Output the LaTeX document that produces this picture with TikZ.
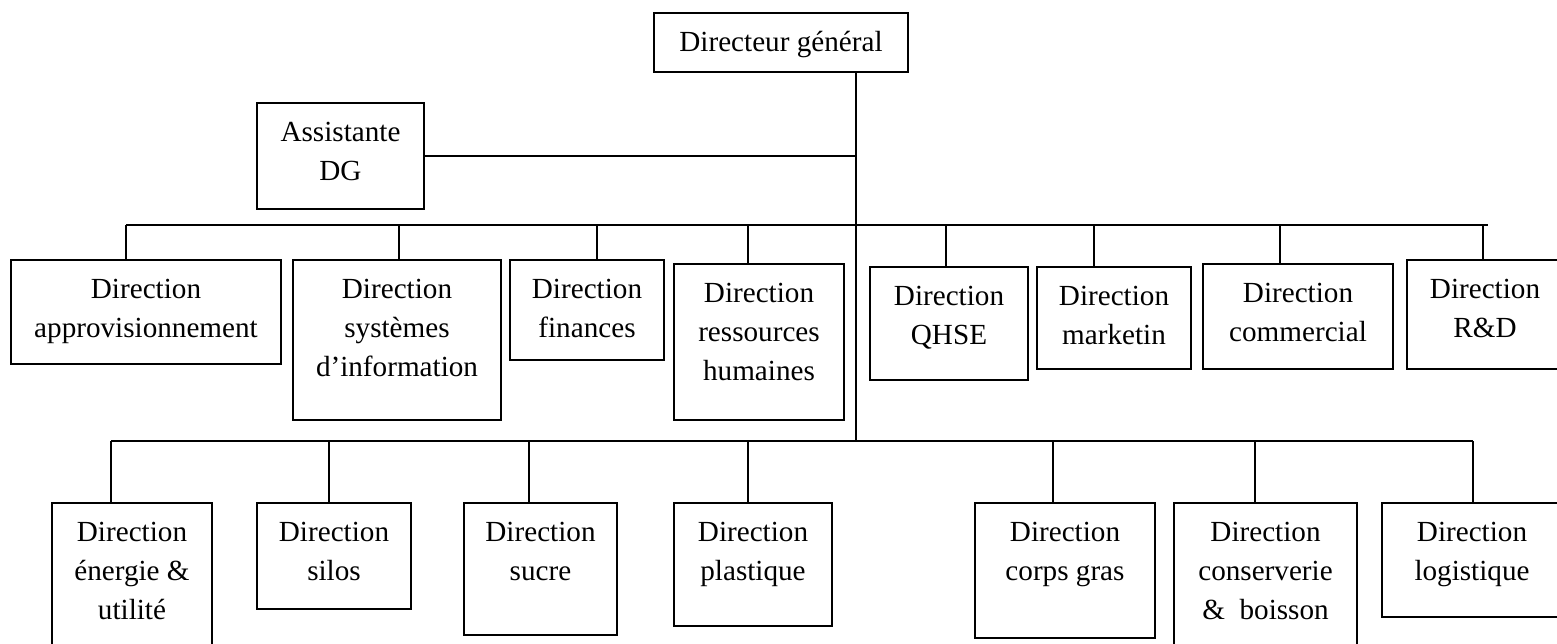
\documentclass[tikz,border=0pt]{standalone}
\usepackage{fontspec}
\setmainfont{Liberation Serif}
\newcommand{\cell}[3]{\parbox[c][#2][t]{#1}{\centering\vspace{0.22cm}\strut #3}}

\begin{document}
\begin{tikzpicture}[x=0.02cm, y=-0.02cm, line width=1.15pt, unit/.style={draw, inner sep=0pt, font=\fontsize{16.6}{22.2}\selectfont}]
\clip (0,0) rectangle (1557,644);

\node [unit](dg) at (781,42.5) {\cell{5.08cm}{1.18cm}{Directeur général}};
\node [unit](asst) at (340.5,156) {\cell{3.34cm}{2.12cm}{Assistante\\DG}};

% directions fonctionnelles
\node [unit](appro) at (146,312) {\cell{5.4cm}{2.08cm}{Direction\\approvisionnement}};
\node [unit](sysinfo) at (397,340) {\cell{4.16cm}{3.2cm}{Direction\\systèmes\\d’information}};
\node [unit](fin) at (587,310) {\cell{3.08cm}{2.0cm}{Direction\\finances}};
\node [unit](rh) at (759,342) {\cell{3.4cm}{3.12cm}{Direction\\ressources\\humaines}};
\node [unit](qhse) at (949,323.5) {\cell{3.16cm}{2.26cm}{Direction\\QHSE}};
\node [unit](mkt) at (1114,318) {\cell{3.08cm}{2.04cm}{Direction\\marketin}};
\node [unit](com) at (1298,316.5) {\cell{3.8cm}{2.1cm}{Direction\\commercial}};
\node [unit](rd) at (1485,314.5) {\cell{3.12cm}{2.18cm}{Direction\\R\&D}};

% directions industrielles
\node [unit](ener) at (132,586.5) {\cell{3.2cm}{3.34cm}{Direction\\énergie \&\\utilité}};
\node [unit](silos) at (334,556) {\cell{3.08cm}{2.12cm}{Direction\\silos}};
\node [unit](sucre) at (540.5,569) {\cell{3.06cm}{2.64cm}{Direction\\sucre}};
\node [unit](plast) at (753,564.5) {\cell{3.16cm}{2.46cm}{Direction\\plastique}};
\node [unit](gras) at (1065,570.5) {\cell{3.6cm}{2.7cm}{Direction\\corps gras}};
\node [unit](cons) at (1265.5,586.5) {\cell{3.66cm}{3.34cm}{Direction\\conserverie\\\& \ boisson}};
\node [unit](logi) at (1472,560) {\cell{3.6cm}{2.28cm}{Direction\\logistique}};

\coordinate (trunk) at ([xshift=1.5cm]dg.south);
\coordinate (uL) at (126,225);
\coordinate (uR) at (1488,225);
\coordinate (lL) at (111,441);
\coordinate (lR) at (1473,441);

\draw (trunk) -- (trunk |- lL);
\draw (asst.east) -- (asst.east -| trunk);
\draw (uL) -- (uR);
\draw (lL) -- (lR);

\foreach \n/\dx in {appro/-0.4, sysinfo/0.04, fin/0.2, rh/-0.22, qhse/-0.06, mkt/-0.4, com/-0.36, rd/-0.04} {
  \path ([xshift=\dx cm]\n.north) coordinate (s);
  \draw (s) -- (s |- uL);
}
\foreach \n/\dx in {ener/-0.42, silos/-0.1, sucre/-0.24, plast/-0.1, gras/-0.24, cons/-0.22, logi/0.02} {
  \path ([xshift=\dx cm]\n.north) coordinate (s);
  \draw (s) -- (s |- lL);
}
\end{tikzpicture}
\end{document}
